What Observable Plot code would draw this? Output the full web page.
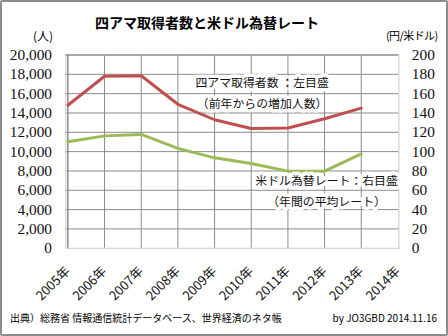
<!DOCTYPE html>
<html><head><meta charset="utf-8">
<script src="https://cdn.jsdelivr.net/npm/d3@7"></script>
<script src="https://cdn.jsdelivr.net/npm/@observablehq/plot@0.6"></script>
<style>
html,body{margin:0;padding:0;background:#fff;}
#wrap{position:relative;width:448px;height:336px;box-sizing:border-box;border:2px solid #8c8c8c;border-radius:2px;overflow:hidden;font-family:"Noto Sans CJK JP","Noto Sans",sans-serif;}
#wrap svg{position:absolute;left:-2px;top:-2px;}
.t{position:absolute;white-space:nowrap;color:#000;}
</style></head>
<body>
<div id="wrap">
  <div class="t" id="title" style="left:0;width:410px;text-align:center;top:10px;font-size:14px;font-weight:bold;">四アマ取得者数と米ドル為替レート</div>
  <div class="t" style="left:31px;top:25px;font-size:12px;">(人)</div>
  <div class="t" style="left:384px;top:25px;font-size:11px;letter-spacing:-0.6px;">(円/米ドル)</div>
  <div class="t" style="left:8px;top:308px;font-size:10px;">出典）総務省 情報通信統計データベース、世界経済のネタ帳</div>
  <div class="t" style="right:9px;top:308px;font-size:10px;">by JO3GBD 2014.11.16</div>
</div>
<script>
const years = ["2005","2006","2007","2008","2009","2010","2011","2012","2013","2014"];
const dataYears = ["2005","2006","2007","2008","2009","2010","2011","2012","2013"];
const licensees = [14800, 17800, 17850, 14900, 13300, 12400, 12450, 13400, 14500];
const usdJpy = [110.2, 116.3, 117.8, 103.4, 93.6, 87.8, 79.8, 79.8, 97.6];
const leftTicks = [0,2000,4000,6000,8000,10000,12000,14000,16000,18000,20000];

const redData = dataYears.map((y,i)=>({year:y, v:licensees[i]}));
const greenData = dataYears.map((y,i)=>({year:y, v:usdJpy[i]*100}));
const redLabels = [
  {year:"2010", v:17050, text:"四アマ取得者数 ：左目盛"},
  {year:"2010", v:14950, text:"（前年からの増加人数）"}
];
const greenLabels = [
  {year:"2011", v:6900, text:"米ドル為替レート：右目盛"},
  {year:"2011", v:4800, text:"（年間の平均レート）"}
];
const labelStyle = {x:"year", y:"v", text:"text", fontSize:12, fill:"#111",
  stroke:"white", strokeWidth:7, paintOrder:"stroke"};

const chart = Plot.plot({
  width:448, height:336,
  marginLeft:66, marginRight:46, marginTop:55, marginBottom:86,
  style:{fontFamily:'"Noto Sans CJK JP","Noto Sans",sans-serif', background:"transparent"},
  x:{type:"point", domain:years, padding:0},
  y:{domain:[0,20000]},
  marks:[
    Plot.gridY(leftTicks.slice(1), {stroke:"#8a8a8a", strokeOpacity:1}),
    Plot.gridX(years.slice(0,-1), {stroke:"#8a8a8a", strokeOpacity:1}),
    Plot.frame({stroke:"#c8c8c8"}),
    Plot.ruleX([years[0]], {stroke:"#8a8a8a"}),
    Plot.ruleY([20000], {stroke:"#8a8a8a"}),
    Plot.axisY(leftTicks, {anchor:"left", tickSize:0, tickPadding:14, tickFormat:d3.format(","), label:null,
      fontSize:15.5, fontFamily:'"Liberation Serif",serif', fill:"#111"}),
    Plot.axisY(leftTicks, {anchor:"right", tickSize:0, tickPadding:13, tickFormat:d=>String(d/100), label:null,
      textAnchor:"start", fontSize:15.5, fontFamily:'"Liberation Serif",serif', fill:"#111"}),
    Plot.axisX(years, {anchor:"bottom", tickSize:0, tickPadding:21, tickRotate:-45, tickFormat:d=>d+"年", label:null,
      fontSize:13, fill:"#111"}),
    Plot.line(redData, {x:"year", y:"v", stroke:"#c0504d", strokeWidth:3}),
    Plot.line(greenData, {x:"year", y:"v", stroke:"#9bbb59", strokeWidth:3}),
    Plot.text(redLabels, {...labelStyle, dx:11}),
    Plot.text(greenLabels, {...labelStyle, dx:39})
  ]
});
document.getElementById("wrap").appendChild(chart);
</script>
</body></html>
